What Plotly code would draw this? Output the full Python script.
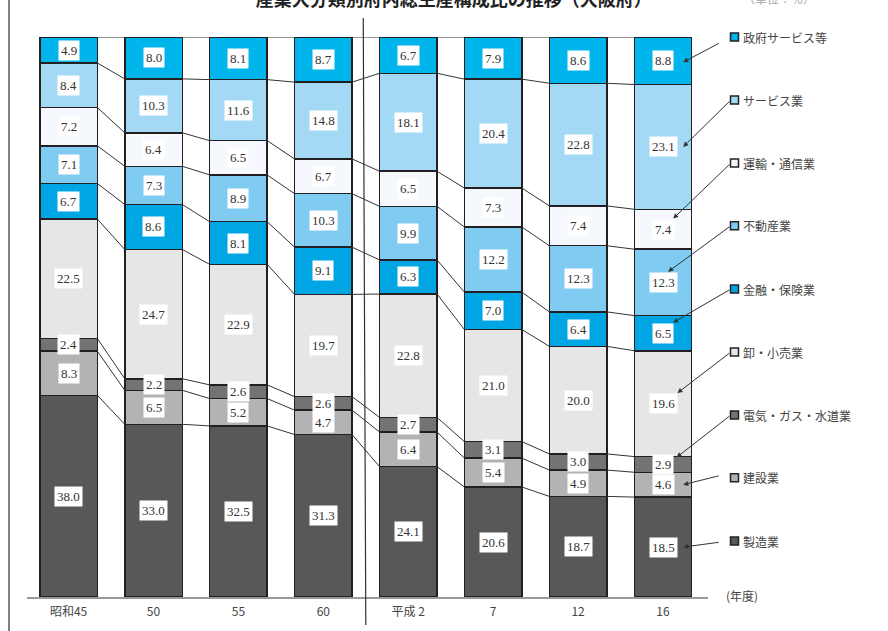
import plotly.graph_objects as go
import numpy as np

years = ["昭和45", "50", "55", "60", "平成 2", "7", "12", "16"]

# series, bottom -> top
names = ["製造業", "建設業", "電気・ガス・水道業", "卸・小売業", "金融・保険業",
         "不動産業", "運輸・通信業", "サービス業", "政府サービス等"]
seizo    = [38.0, 33.0, 32.5, 31.3, 24.1, 20.6, 18.7, 18.5]
kensetsu = [8.3, 6.5, 5.2, 4.7, 6.4, 5.4, 4.9, 4.6]
denki    = [2.4, 2.2, 2.6, 2.6, 2.7, 3.1, 3.0, 2.9]
oroshi   = [22.5, 24.7, 22.9, 19.7, 22.8, 21.0, 20.0, 19.6]
kinyu    = [6.7, 8.6, 8.1, 9.1, 6.3, 7.0, 6.4, 6.5]
fudosan  = [7.1, 7.3, 8.9, 10.3, 9.9, 12.2, 12.3, 12.3]
unyu     = [7.2, 6.4, 6.5, 6.7, 6.5, 7.3, 7.4, 7.4]
service  = [8.4, 10.3, 11.6, 14.8, 18.1, 20.4, 22.8, 23.1]
seifu    = [4.9, 8.0, 8.1, 8.7, 6.7, 7.9, 8.6, 8.8]
series = [seizo, kensetsu, denki, oroshi, kinyu, fudosan, unyu, service, seifu]

colors = ["#585858", "#b3b3b3", "#737373", "#e6e6e6", "#00a6e4",
          "#80cbf1", "#f5f9fd", "#a3d9f5", "#00b4ec"]

title = "産業大分類別府内総生産構成比の推移（大阪府）"

xs = np.arange(len(years))
W = 0.677
vals = np.array(series, dtype=float)
norm = vals / vals.sum(axis=0) * 100.0
cum_top = np.cumsum(norm, axis=0)
cum_bot = cum_top - norm

fig = go.Figure()
for k, name in enumerate(names):
    fig.add_trace(go.Bar(
        x=xs, y=series[k], name=name, width=W,
        marker=dict(color=colors[k], line=dict(color="#231f20", width=1.5)),
        showlegend=False, hoverinfo="skip",
    ))

# series lines between adjacent bars
lx, ly = [], []
for k in range(len(names)):
    for i in range(len(years) - 1):
        lx += [xs[i] + W / 2, xs[i + 1] - W / 2, None]
        ly += [cum_top[k, i], cum_top[k, i + 1], None]
fig.add_trace(go.Scatter(x=lx, y=ly, mode="lines",
                         line=dict(color="#333333", width=1),
                         showlegend=False, hoverinfo="skip"))

annotations = []
for k in range(len(names)):
    for i in range(len(years)):
        annotations.append(dict(
            x=xs[i], y=(cum_bot[k, i] + cum_top[k, i]) / 2, xref="x", yref="y",
            text=f"{series[k][i]:.1f}", showarrow=False, bgcolor="white",
            borderpad=2,
            font=dict(family="Liberation Serif, DejaVu Serif, serif", size=13, color="#333333"),
        ))

# legend (custom, right side)
PLOT_L, PLOT_W, PLOT_B, PLOT_H = 27, 681, 597, 560
leg_y = [10.0, 21.3, 32.5, 43.75, 55.0, 66.3, 77.5, 88.75, 100.0]
mx = (734.5 - PLOT_L) / PLOT_W
hx, hy_ = 4.0 / PLOT_W, 4.0 / PLOT_H
shapes = []
for k in range(len(names)):
    py = leg_y[k] / 100.0
    shapes.append(dict(type="rect", xref="paper", yref="paper",
                       x0=mx - hx, x1=mx + hx, y0=py - hy_, y1=py + hy_,
                       fillcolor=colors[k], line=dict(color="#222222", width=1.5)))
    annotations.append(dict(x=(741 - PLOT_L) / PLOT_W, y=py, xref="paper", yref="paper",
                            xanchor="left", yanchor="middle", text=names[k],
                            showarrow=False,
                            font=dict(family="Noto Sans CJK JP", size=12, color="#444444")))

# arrows from legend to the last bar
head_dx = [0.238, 0.238, 0.16, 0.17, 0.12, 0.06, 0.12, 0.238, 0.238]
head_dy = [0.0, 0.0, 1.26, 1.9, 1.9, 1.9, 1.9, 0.0, -0.25]
tail_x = [7.674, 7.674, 7.80, 7.80, 7.80, 7.80, 7.80, 7.80, 7.674]
tail_dy = [-0.2, 0.4, 0.0, 0.0, 0.0, 0.0, 0.0, 0.0, -1.0]
last = len(years) - 1
for k in range(len(names)):
    hy = (cum_bot[k, last] + cum_top[k, last]) / 2 + head_dy[k]
    annotations.append(dict(
        x=xs[last] + head_dx[k], y=hy, xref="x", yref="y",
        ax=tail_x[k], ay=leg_y[k] + tail_dy[k], axref="x", ayref="y",
        text="", showarrow=True, arrowhead=2, arrowsize=1, arrowwidth=1,
        arrowcolor="#333333", standoff=0,
    ))

annotations.append(dict(x=1.076, y=-0.016, xref="paper", yref="paper",
                        text="(年度)", showarrow=False,
                        font=dict(family="Noto Sans CJK JP", size=12, color="#444444")))
annotations.append(dict(x=1.16, y=1.088, xref="paper", yref="paper",
                        text="（単位：％）", showarrow=False,
                        font=dict(family="Noto Sans CJK JP", size=12, color="#aaaaaa")))

shapes += [
    dict(type="line", xref="paper", yref="paper", x0=-0.0264, x1=-0.0264,
         y0=-0.07, y1=1.08, line=dict(color="#555555", width=1.5)),
    dict(type="line", xref="x", yref="paper", x0=3.47, x1=3.5,
         y0=1.034, y1=-0.05, line=dict(color="#333333", width=1.2)),
]

fig.update_layout(
    barmode="stack", barnorm="percent",
    width=888, height=631,
    margin=dict(l=27, r=180, t=37, b=34),
    paper_bgcolor="white", plot_bgcolor="white",
    title=dict(text=title, x=0.511, xanchor="center", y=1.0, yanchor="middle",
               font=dict(family="Noto Sans CJK JP", size=18, color="#222222", weight="bold"),
               ),
    xaxis=dict(range=[-0.49, 7.53], tickvals=list(xs), ticktext=years,
               showgrid=False, zeroline=False, showline=True,
               linecolor="#999999", linewidth=2, ticks="", ticklabelstandoff=3,
               tickfont=dict(family="Noto Sans CJK JP", size=12, color="#444444")),
    yaxis=dict(range=[0, 100], visible=False, showgrid=False, zeroline=False),
    annotations=annotations, shapes=shapes,
)

fig.write_html("out.html", config={"displayModeBar": False},
               post_script="document.body.style.margin='0';document.body.style.overflow='hidden';")
